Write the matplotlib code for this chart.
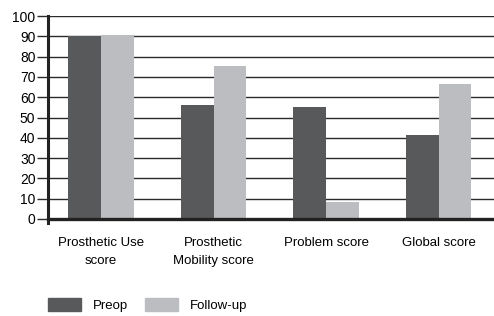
import matplotlib
matplotlib.use("Agg")
import matplotlib.pyplot as plt
import matplotlib.patches as mpatches
import numpy as np

plt.rcParams['font.family'] = ['Liberation Sans', 'DejaVu Sans']

# data ---------------------------------------------------------------
categories = ['Prosthetic Use\nscore', 'Prosthetic\nMobility score', 'Problem score', 'Global score']
preop      = [90, 56, 55, 41.5]
followup   = [90.5, 75.5, 8.5, 66.5]
yticks     = [0, 10, 20, 30, 40, 50, 60, 70, 80, 90, 100]

dark  = '#58595b'
light = '#bcbdc0'

fig = plt.figure(figsize=(4.94, 3.16), dpi=100)
ax = fig.add_axes([0.097, 0.307, 0.903, 0.642])

x = np.arange(len(categories))
w = 0.29
ax.bar(x - w/2, preop, w, color=dark, zorder=3)
ax.bar(x + w/2, followup, w, color=light, zorder=3)

ax.set_xlim(-0.47, 3.49)
ax.set_ylim(0, 100)
ax.set_yticks(yticks)
ax.set_yticklabels([str(v) for v in yticks], fontsize=10)
ax.yaxis.grid(True, color='#2a2a2a', lw=1.0, zorder=1)
ax.tick_params(axis='y', length=8, width=1.0, color='#2a2a2a', pad=1)
ax.set_xticks(x)
ax.set_xticklabels(categories, fontsize=9.5, linespacing=1.65)
ax.tick_params(axis='x', length=0, pad=13)

for s in ['top', 'right', 'bottom']:
    ax.spines[s].set_visible(False)
ax.spines['left'].set_linewidth(2.2)
ax.spines['left'].set_color('#222222')
ax.spines['left'].set_bounds(-2, 100)
ax.spines['left'].set_zorder(5)
ax.axhline(0, color='#222222', lw=2.4, zorder=5, clip_on=False)

# legend at bottom left
handles = [mpatches.Patch(color=dark, label='Preop'),
           mpatches.Patch(color=light, label='Follow-up')]
fig.legend(handles=handles, loc='lower left', bbox_to_anchor=(0.073, -0.025),
           ncol=2, frameon=False, fontsize=9.5, handlelength=2.5, handleheight=1.1,
           handletextpad=0.9, columnspacing=1.3)

fig.savefig('out.png', dpi=100)
